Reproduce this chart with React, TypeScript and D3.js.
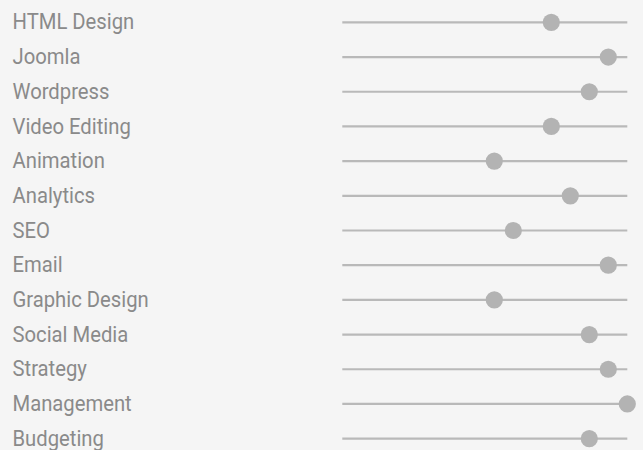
import React from 'react';
import * as d3 from 'd3';

const skills = [
  'HTML Design', 'Joomla', 'Wordpress', 'Video Editing', 'Animation', 'Analytics', 'SEO',
  'Email', 'Graphic Design', 'Social Media', 'Strategy', 'Management', 'Budgeting'
];
// slider levels, scale 0..15
const levels = [11, 14, 13, 11, 8, 12, 9, 14, 8, 13, 14, 15, 13];
const maxLevel = 15;

const width = 643;
const height = 450;
const squeeze = 0.9; // condensed look for the labels

const App: React.FC = () => {
  const y = d3.scaleBand<string>().domain(skills).range([4, 455]).padding(0);
  const x = d3.scaleLinear().domain([0, maxLevel]).range([342.3, 627.3]);

  return (
    <svg width={width} height={height} style={{ position: 'fixed', left: 0, top: 0, background: '#f5f5f5' }}>
      <rect width={width} height={height} fill="#f5f5f5" />
      {skills.map((s, i) => {
        const cy = (y(s) ?? 0) + y.bandwidth() / 2;
        return (
          <g key={s}>
            <text
              transform={`translate(12.5,${cy}) scale(${squeeze},1)`}
              dy="0.36em"
              fill="#8a8a8a"
              fontFamily="Roboto, sans-serif"
              fontSize={22.5}
            >
              {s}
            </text>
            <line x1={x(0)} x2={x(maxLevel)} y1={cy + 1} y2={cy + 1} stroke="#b9b9b9" strokeWidth={2.2} />
            <circle cx={x(levels[i])} cy={cy + 1} r={8.6} fill="#b3b3b3" />
          </g>
        );
      })}
    </svg>
  );
};

export default App;
